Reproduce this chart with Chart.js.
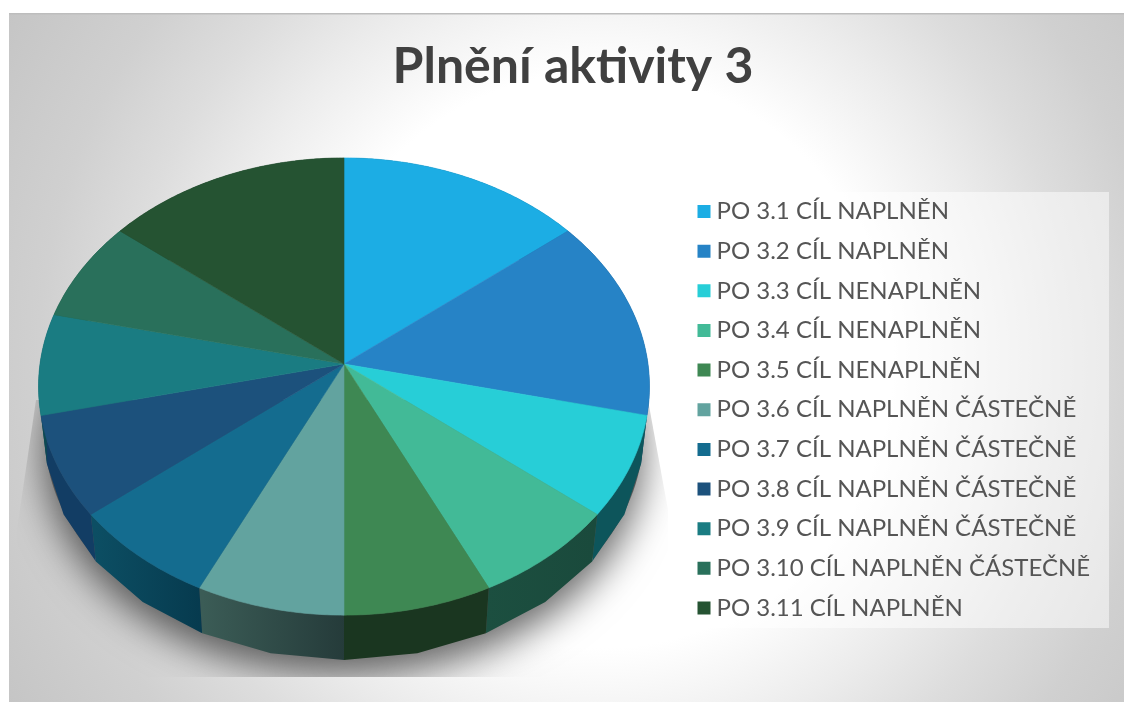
<!DOCTYPE html>
<html>
<head>
<meta charset="utf-8">
<style>
  html, body { margin: 0; padding: 0; background: #fff; }
  canvas { display: block; }
</style>
<script src="https://cdn.jsdelivr.net/npm/chart.js@4"></script>
</head>
<body>
<canvas id="grafico" width="1124" height="702"></canvas>
<script>
const titulek = 'Plnění aktivity 3';
const kategorie = [
  'PO 3.1 CÍL NAPLNĚN', 'PO 3.2 CÍL NAPLNĚN', 'PO 3.3 CÍL NENAPLNĚN', 'PO 3.4 CÍL NENAPLNĚN',
  'PO 3.5 CÍL NENAPLNĚN', 'PO 3.6 CÍL NAPLNĚN ČÁSTEČNĚ', 'PO 3.7 CÍL NAPLNĚN ČÁSTEČNĚ',
  'PO 3.8 CÍL NAPLNĚN ČÁSTEČNĚ', 'PO 3.9 CÍL NAPLNĚN ČÁSTEČNĚ', 'PO 3.10 CÍL NAPLNĚN ČÁSTEČNĚ',
  'PO 3.11 CÍL NAPLNĚN'
];
const hodnoty = [2, 2, 1, 1, 1, 1, 1, 1, 1, 1, 2];
const barvy = ['#1CADE4', '#2683C6', '#27CED7', '#42BA97', '#3E8853', '#62A39F',
  '#146C8F', '#1C517C', '#1A7C82', '#29705B', '#255332'];
// boky kolace: barva vlevo a vpravo
const bokyOd = ['#0b4a63', '#123f63', '#0d555b', '#1c4f40', '#1a3620', '#3b5c56',
  '#0c4e63', '#123d64', '#0d4a50', '#174436', '#14301d'];
const bokyDo = ['#0b4a63', '#123f63', '#0d555b', '#1a4a3c', '#1a3620', '#253b3a',
  '#063a4e', '#123d64', '#0d4a50', '#174436', '#14301d'];

// perspektiva: jednotkova kruznice -> obrazovka
const stred = { x: 344, y: 364 };
const A = 304, B = 226.4, K = 0.0985;
const HLOUBKA = 50, ZMENSENI = 0.98;

function bod(uhel, dole) {
  const w = 1 - K * Math.sin(uhel);
  const s = dole ? ZMENSENI : 1;
  return {
    x: stred.x + s * A * Math.cos(uhel) / w,
    y: stred.y + s * B * Math.sin(uhel) / w + (dole ? HLOUBKA : 0)
  };
}

function obvod(ctx, od, po, dole) {
  const kroky = Math.max(2, Math.ceil((po - od) / 0.01));
  for (let i = 0; i <= kroky; i++) {
    const p = bod(od + (po - od) * i / kroky, dole);
    ctx.lineTo(p.x, p.y);
  }
}

const kolac3d = {
  id: 'kolac3d',
  beforeDraw(chart) {
    const ctx = chart.ctx;
    const g = ctx.createRadialGradient(600, 360, 0, 600, 360, 720);
    g.addColorStop(0, '#ffffff');
    g.addColorStop(0.4, '#ffffff');
    g.addColorStop(0.55, '#ececec');
    g.addColorStop(0.66, '#dddddd');
    g.addColorStop(0.78, '#d0d0d0');
    g.addColorStop(1, '#c2c2c2');
    ctx.save();
    ctx.fillStyle = g;
    ctx.fillRect(9, 13, 1115, 689);
    ctx.fillStyle = '#bdbdbd';
    ctx.fillRect(9, 13, 1115, 1.5);
    // podklad legendy
    ctx.fillStyle = 'rgba(255,255,255,0.5)';
    ctx.fillRect(680, 192, 429, 436);
    ctx.restore();
  },
  afterLayout(chart) {
    const l = chart.legend;
    const w = l.width, h = l.height;
    l.left = 703.5 - l.options.labels.padding;
    l.right = l.left + w;
    l.top = 199.5 - l.options.labels.padding;
    l.bottom = l.top + h;
  },
  beforeDatasetDraw(chart, args) {
    const ctx = chart.ctx;
    const oblouky = chart.getDatasetMeta(args.index).data;
    ctx.save();
    // stin pod kolacem
    ctx.save();
    ctx.beginPath();
    ctx.moveTo(36, 400); ctx.lineTo(17, 530); ctx.lineTo(17, 677);
    ctx.lineTo(668, 677); ctx.lineTo(668, 510); ctx.lineTo(648, 400);
    ctx.closePath();
    ctx.clip();
    ctx.shadowColor = 'rgba(0,0,0,0.6)';
    ctx.shadowBlur = 38;
    ctx.shadowOffsetY = 18;
    ctx.fillStyle = '#555';
    ctx.translate(0, -3);
    ctx.beginPath();
    obvod(ctx, 0, Math.PI * 2, true);
    ctx.closePath();
    ctx.fill();
    ctx.restore();
    // boky
    oblouky.forEach((arc, i) => {
      const od = arc.startAngle, po = arc.endAngle;
      const a = bod(od, true), b = bod(po, true);
      const g = ctx.createLinearGradient(Math.min(a.x, b.x), 0, Math.max(a.x, b.x) + 1, 0);
      g.addColorStop(0, bokyOd[i]);
      g.addColorStop(1, bokyDo[i]);
      ctx.fillStyle = g;
      ctx.beginPath();
      obvod(ctx, od, po, false);
      obvod(ctx, po, od, true);
      ctx.closePath();
      ctx.fill();
    });
    // horni plocha
    oblouky.forEach((arc, i) => {
      ctx.fillStyle = arc.options.backgroundColor;
      ctx.strokeStyle = arc.options.backgroundColor;
      ctx.lineWidth = 0.6;
      ctx.beginPath();
      ctx.moveTo(stred.x, stred.y);
      obvod(ctx, arc.startAngle, arc.endAngle, false);
      ctx.closePath();
      ctx.fill();
      ctx.stroke();
    });
    ctx.restore();
    return false;
  }
};

const grafico = new Chart(document.getElementById('grafico').getContext('2d'), {
  type: 'pie',
  data: {
    labels: kategorie,
    datasets: [{ data: hodnoty, backgroundColor: barvy, borderWidth: 0 }]
  },
  options: {
    responsive: false,
    animation: false,
    layout: { padding: { left: 22, top: 37 } },
    plugins: {
      title: {
        display: true,
        text: titulek,
        color: '#404040',
        font: { family: 'Lato', size: 50, weight: 'bold' },
        padding: 0
      },
      tooltip: { enabled: false },
      legend: {
        position: 'right',
        align: 'start',
        labels: {
          color: '#555555',
          font: { family: 'Lato', size: 24 },
          boxWidth: 1,
          boxHeight: 1,
          padding: 15.65,
          generateLabels(chart) {
            return Chart.overrides.pie.plugins.legend.labels.generateLabels(chart).map(l => ({
              ...l, strokeStyle: l.fillStyle, lineWidth: 12
            }));
          }
        }
      }
    }
  },
  plugins: [kolac3d]
});
</script>
</body>
</html>
